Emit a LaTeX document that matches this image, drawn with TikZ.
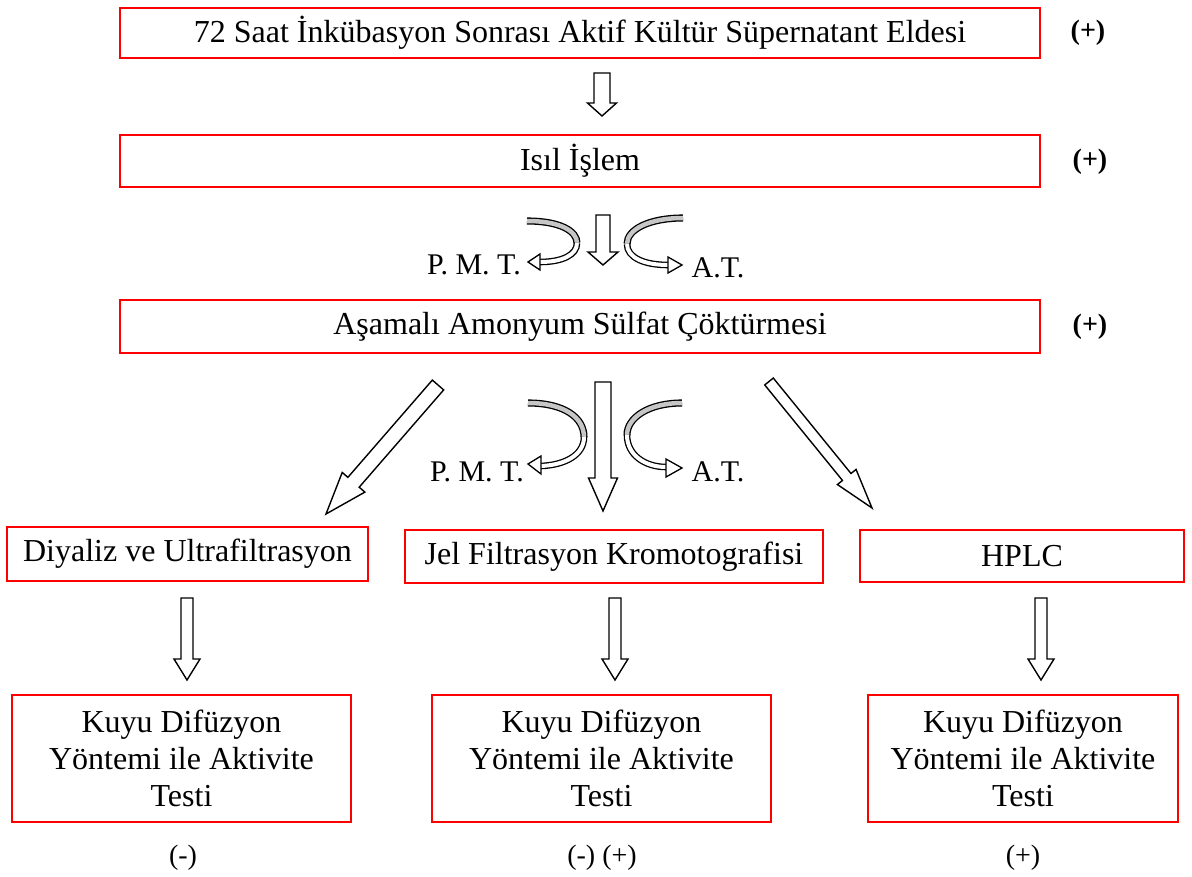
\documentclass[tikz,border=0pt]{standalone}
\usepackage{fontspec}
\setmainfont{Liberation Serif}
\usetikzlibrary{calc}
\tikzset{
  box/.style={draw=red, line width=2pt, inner sep=0pt},
  lbl/.style={inner sep=0pt, font=\fontsize{30}{34}\selectfont},
  plus/.style={inner sep=0pt, font=\fontsize{28}{32}\selectfont\bfseries},
  res/.style={inner sep=0pt, font=\fontsize{28}{32}\selectfont},
  blk/.style={draw=black, fill=white, line width=1.4pt, line join=miter},
  ribg/.style={double=gray!45, double distance=4.5pt, line width=1.3pt},
  ribw/.style={double=white, double distance=4pt, line width=1.3pt},
  head/.style={draw=black, fill=white, line width=1.3pt, line join=miter},
}
% block arrow: from, to, shaft half width, head half width, head length
\newcommand\blockarrow[5]{%
  \draw[blk] let \p1=(#1), \p2=(#2),
    \n1={atan2(\y2-\y1,\x2-\x1)}, \n2={veclen(\x2-\x1,\y2-\y1)} in
    [shift={(\p1)}, rotate=\n1]
    (0,-#3) -- ({\n2-#5},-#3) -- ({\n2-#5},-#4) -- (\n2,0) --
    ({\n2-#5},#4) -- ({\n2-#5},#3) -- (0,#3) -- cycle;}
\begin{document}
\begin{tikzpicture}[x=1pt,y=-1pt, font=\fontsize{32}{37}\selectfont]
\useasboundingbox (0,0) rectangle (1192,877);

% boxes
\node[box, minimum width=920pt, minimum height=50pt] (b1) at (580,33) {72 Saat İnkübasyon Sonrası Aktif Kültür Süpernatant Eldesi};
\node[box, minimum width=920pt, minimum height=52pt] (b2) at (580,161) {Isıl İşlem};
\node[box, minimum width=920pt, minimum height=53pt] (b3) at (580,326.5) {Aşamalı Amonyum Sülfat Çöktürmesi};
\node[box, minimum width=361pt, minimum height=54pt] (d1) at (187.5,554) {Diyaliz ve Ultrafiltrasyon};
\node[box, minimum width=418pt, minimum height=53pt] (d2) at (614,556.5) {Jel Filtrasyon Kromotografisi};
\node[box, minimum width=324pt, minimum height=52pt] (d3) at (1022,556) {HPLC};
\node[box, align=center, minimum width=339pt, minimum height=127pt] (k1) at (181.5,758.5) {Kuyu Difüzyon\\Yöntemi ile Aktivite\\Testi};
\node[box, align=center, minimum width=339pt, minimum height=127pt] (k2) at (601.5,758.5) {Kuyu Difüzyon\\Yöntemi ile Aktivite\\Testi};
\node[box, align=center, minimum width=310pt, minimum height=127pt] (k3) at (1023,758.5) {Kuyu Difüzyon\\Yöntemi ile Aktivite\\Testi};

% side labels
\node[plus] (r1) at (1088,33) {(+)};
\node[plus] (r2) at (1090,162) {(+)};
\node[plus] (r3) at (1090,327) {(+)};
\node[res] (s1) at (183,858) {(-)};
\node[res] (s2) at (602,858) {(-) (+)};
\node[res] (s3) at (1023,858) {(+)};
\node[lbl] (pmt1) at (474,265) {P. M. T.};
\node[lbl] (at1) at (718,268) {A.T.};
\node[lbl] (pmt2) at (477,472) {P. M. T.};
\node[lbl] (at2) at (718,472) {A.T.};

% arrow end points
\coordinate (a1s) at (602,73);  \coordinate (a1e) at (602,116);
\coordinate (a2s) at (603,215); \coordinate (a2e) at (603,265);
\coordinate (a3s) at (603,382); \coordinate (a3e) at (603,511);
\coordinate (dls) at (438,385); \coordinate (dle) at (326,514);
\coordinate (drs) at (769,381.5); \coordinate (dre) at (872,508);
\coordinate (l1s) at (187,598); \coordinate (l1e) at (187,680);
\coordinate (l2s) at (615,598); \coordinate (l2e) at (615,680);
\coordinate (l3s) at (1041,598); \coordinate (l3e) at (1041,680);

\blockarrow{a1s}{a1e}{8}{14.5}{13}
\blockarrow{a2s}{a2e}{7}{15}{13}
\blockarrow{a3s}{a3e}{8}{14.5}{33}
\blockarrow{dls}{dle}{7.5}{15}{42}
\blockarrow{drs}{dre}{5.5}{12}{40}
\blockarrow{l1s}{l1e}{6}{13}{21}
\blockarrow{l2s}{l2e}{6}{13}{21}
\blockarrow{l3s}{l3e}{6}{13}{21}

% curled arrows, upper pair
\draw[ribg] (527,221) .. controls (560,221) and (577,231) .. (577,243);
\draw[ribw] (577,243) .. controls (577,255) and (562,262) .. (540,262);
\draw[head] (540,254) -- (528,262) -- (540,270) -- cycle;
\draw[ribg] (683,218) .. controls (650,218) and (627,229) .. (627,244);
\draw[ribw] (627,244) .. controls (627,258) and (645,265) .. (668,265);
\draw[head] (668,257) -- (682,265) -- (668,273) -- cycle;

% curled arrows, lower pair
\draw[ribg] (528,403) .. controls (565,403) and (584,418) .. (584,437);
\draw[ribw] (584,437) .. controls (584,455) and (565,465) .. (541,466);
\draw[head] (541,456) -- (528,464) -- (541,474) -- cycle;
\draw[ribg] (682,403) .. controls (648,403) and (627,418) .. (627,435);
\draw[ribw] (627,435) .. controls (627,455) and (645,467) .. (666,467);
\draw[head] (666,459) -- (682,468) -- (666,477) -- cycle;
\end{tikzpicture}
\end{document}
